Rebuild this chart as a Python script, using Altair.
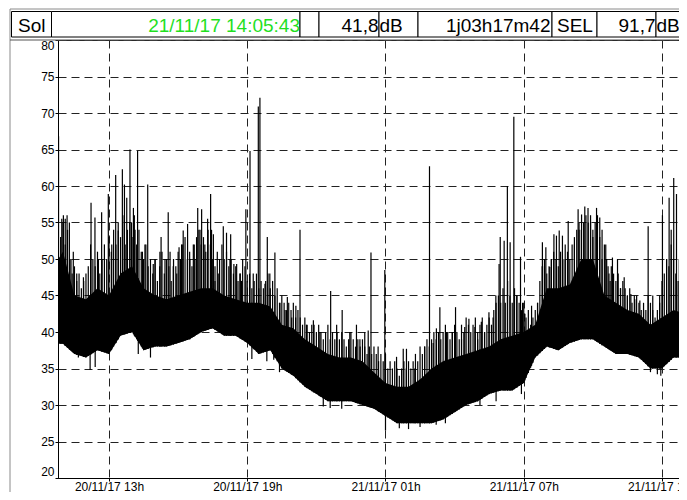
import altair as alt
import numpy as np
import pandas as pd

# ---------------- data ----------------
# envelope of the dense noise band, hours since 20/11/17 00:00
env_hours = [10.8, 11.0, 11.5, 12.0, 12.5, 13.0, 13.5, 14.0, 14.5, 15.0, 15.5, 16.0,
             16.5, 17.0, 17.5, 18.0, 18.5, 19.0, 19.5, 20.0, 20.5, 21.0, 21.5, 22.0,
             22.5, 23.0, 23.5, 24.0, 24.5, 25.0, 25.5, 26.0, 26.5, 27.0, 27.5, 28.0,
             28.5, 29.0, 29.5, 30.0, 30.5, 31.0, 31.5, 32.0, 32.5, 33.0, 33.5, 34.0,
             34.5, 35.0, 35.5, 36.0, 36.5, 37.0, 37.5, 38.0, 38.09]
env_low = [38.4, 38.4, 37.0, 36.5, 37.5, 37.0, 39.5, 40.0, 37.5, 38.0, 38.0, 38.5,
           39.0, 40.0, 40.5, 39.5, 39.5, 38.5, 37.0, 37.5, 35.0, 34.0, 32.5, 31.5,
           30.5, 30.5, 30.5, 30.0, 29.5, 28.5, 27.5, 27.5, 27.5, 27.5, 28.0, 29.0,
           30.0, 30.5, 31.5, 32.0, 32.0, 33.0, 36.5, 38.0, 37.5, 38.5, 39.0, 39.0,
           38.0, 37.0, 37.0, 36.5, 35.0, 35.0, 36.5, 36.5, 37.0]
env_core = [50.0, 51.0, 45.0, 44.5, 46.0, 45.0, 48.0, 49.0, 46.0, 45.0, 44.5, 45.0,
            45.5, 46.0, 46.0, 45.0, 44.5, 44.0, 44.0, 43.5, 41.0, 40.5, 39.0, 38.0,
            37.0, 36.5, 36.5, 36.0, 34.5, 33.0, 32.5, 32.5, 33.5, 35.0, 36.0, 36.5,
            37.0, 37.5, 38.0, 39.0, 39.5, 40.0, 41.0, 46.0, 46.0, 46.5, 50.0, 50.0,
            45.0, 44.0, 43.0, 42.5, 41.0, 42.0, 43.0, 42.5, 42.0]

# ragged upper fringe of the band, one reading every 0.1 h from 10.9 h
fringe_start, fringe_step = 10.9, 0.1
fringe_db = [
    53, 55, 52, 54, 50, 48, 49, 47, 48, 46,
    47, 48, 49, 52, 50, 49, 51, 48, 50, 52,
    50, 53, 51, 54, 52, 55, 53, 56, 52, 54,
    55, 53, 56, 52, 54, 51, 50, 52, 49, 50,
    48, 50, 47, 49, 51, 48, 50, 49, 47, 50,
    49, 51, 50, 52, 53, 50, 51, 49, 52, 53,
    54, 52, 53, 51, 54, 52, 50, 49, 51, 50,
    52, 50, 51, 49, 50, 48, 49, 47, 48, 50,
    49, 47, 48, 46, 47, 48, 46, 47, 46, 47,
    48, 46, 47, 45, 46, 44, 45, 44, 43, 44,
    43, 44, 42, 43, 42, 41, 42, 41, 40, 41,
    41, 40, 41, 40, 39, 40, 41, 39, 40, 39,
    40, 39, 40, 39, 38, 39, 40, 39, 38, 39,
    38, 39, 38, 37, 38, 37, 38, 37, 36, 37,
    36, 37, 35, 36, 35, 36, 35, 34, 35, 36,
    35, 36, 35, 36, 37, 36, 38, 37, 38, 39,
    38, 39, 40, 39, 40, 39, 40, 41, 40, 39,
    40, 41, 40, 39, 41, 40, 42, 41, 40, 41,
    42, 40, 41, 42, 40, 41, 42, 41, 43, 44,
    45, 44, 46, 44, 47, 45, 44, 46, 45, 44,
    43, 44, 42, 43, 41, 42, 43, 44, 47, 49,
    50, 48, 49, 50, 51, 50, 49, 51, 50, 52,
    51, 50, 52, 53, 54, 55, 54, 55, 56, 55,
    56, 54, 55, 56, 53, 54, 52, 50, 48, 49,
    48, 47, 48, 46, 47, 46, 45, 46, 44, 45,
    45, 44, 43, 44, 43, 45, 44, 43, 42, 43,
    45, 47, 48, 50, 49, 52, 50, 48, 47,
]

# individual peaks
spike_hours = [10.81, 10.95, 11.02, 11.10, 11.18, 11.28, 11.35, 11.45, 11.60, 11.89,
               12.22, 12.39, 12.54, 12.68, 12.97, 13.12, 13.29, 13.40, 13.58, 13.67,
               13.77, 13.91, 13.98, 14.06, 14.13, 14.24, 14.45, 14.56, 14.68, 14.92,
               15.00, 15.21, 15.26, 15.43, 15.57, 15.65, 15.79, 15.94, 16.04, 16.15,
               16.22, 16.41, 16.51, 16.66, 16.73, 16.85, 16.95, 17.02, 17.16, 17.28,
               17.41, 17.45, 17.53, 17.60, 17.74, 17.96, 18.10, 18.25, 18.28, 18.42,
               18.54, 18.68, 18.75, 18.94, 19.12, 19.26, 19.48, 19.55, 19.77, 19.87,
               19.98, 20.20, 20.42, 20.64, 20.74, 20.93, 21.11, 21.29, 21.57, 21.87,
               22.15, 22.62, 22.88, 23.12, 23.45, 23.74, 23.89, 24.10, 24.25, 24.37,
               24.68, 24.97, 25.48, 25.77, 25.91, 26.27, 26.70, 26.91, 27.07, 27.21,
               27.36, 27.65, 27.90, 28.04, 28.30, 28.44, 28.62, 28.88, 29.00, 29.16,
               29.30, 29.49, 29.67, 29.79, 29.93, 29.98, 30.15, 30.29, 30.41, 30.57,
               30.70, 30.86, 30.95, 31.05, 31.34, 31.60, 31.81, 31.90, 31.96, 32.13,
               32.20, 32.31, 32.42, 32.54, 32.68, 32.80, 32.93, 33.07, 33.20, 33.36,
               33.40, 33.51, 33.65, 33.79, 33.90, 34.00, 34.16, 34.30, 34.40, 34.56,
               34.66, 34.75, 34.85, 35.07, 35.20, 35.36, 35.50, 35.65, 35.82, 36.04,
               36.20, 36.40, 36.60, 36.90, 37.02, 37.20, 37.31, 37.40, 37.51, 37.63,
               37.75, 37.85, 37.95, 38.03]
spike_db = [66.8, 55.5, 56.0, 55.5, 56.0, 55.0, 50.0, 51.0, 48.0, 47.5,
            57.7, 55.7, 50.0, 56.4, 58.9, 52.0, 61.5, 53.9, 62.3, 60.2,
            58.4, 65.0, 55.0, 57.0, 54.0, 64.8, 51.0, 52.0, 60.2, 49.3,
            50.0, 51.0, 53.0, 50.0, 56.4, 51.0, 49.0, 48.0, 51.6, 52.0,
            53.9, 54.8, 50.0, 52.0, 50.0, 57.0, 54.0, 56.8, 52.0, 55.5,
            58.9, 54.0, 53.4, 47.0, 48.0, 54.5, 53.6, 50.0, 53.4, 49.3,
            49.3, 48.0, 47.0, 56.8, 64.8, 48.0, 70.9, 72.1, 46.6, 53.0,
            48.0, 50.9, 44.0, 43.0, 44.8, 42.0, 43.6, 54.0, 41.0, 41.6,
            40.0, 45.6, 41.0, 43.0, 40.0, 41.0, 39.0, 40.0, 40.2, 50.9,
            38.0, 48.5, 36.6, 37.7, 37.7, 35.0, 38.0, 62.7, 38.5, 40.5,
            43.4, 40.0, 40.0, 43.4, 39.0, 40.7, 41.8, 40.7, 39.0, 41.4,
            40.0, 42.7, 42.0, 45.0, 49.3, 53.0, 52.5, 60.0, 52.3, 69.5,
            45.0, 50.3, 44.0, 42.5, 43.6, 44.0, 52.3, 49.0, 51.6, 48.9,
            50.0, 53.4, 53.2, 53.9, 53.2, 50.0, 55.2, 46.0, 52.0, 56.8,
            54.0, 56.1, 57.2, 57.0, 55.0, 53.0, 57.0, 55.7, 50.0, 52.0,
            49.0, 47.0, 50.2, 50.0, 46.0, 47.5, 45.0, 45.2, 44.5, 44.3,
            43.0, 54.5, 45.0, 44.0, 56.0, 50.0, 58.4, 54.0, 61.1, 58.9,
            50.0, 51.6, 47.0, 45.2]

# downward dips below the band
dip_hours = [11.67, 12.18, 12.40, 14.27, 14.80, 19.20, 19.85, 20.15, 20.40, 22.30,
             22.60, 23.10, 25.00, 25.60, 26.00, 26.50, 27.20, 27.60, 29.10, 29.80,
             30.90, 36.50, 36.80, 36.95]
dip_db = [36.5, 34.8, 35.2, 37.0, 36.5, 36.3, 36.0, 36.2, 34.5, 29.8,
          29.6, 29.5, 26.5, 26.8, 26.7, 27.0, 27.3, 27.5, 30.0, 30.5,
          31.5, 34.5, 34.2, 34.0]

# header bar
box_left = [11.5, 51.5, 300, 319, 379, 418, 552, 597, 656]
box_right = [51.5, 300, 319, 379, 418, 552, 597, 656, 720]
head_left_text = ["Sol", "dB", "SEL", "dB"]
head_left_x = [18, 379.5, 557, 656.5]
head_right_text = ["21/11/17 14:05:43", "41,8", "1j03h17m42", "91,7"]
head_right_x = [300, 378.5, 550.5, 655.5]
head_right_color = ["#1fe01f", "black", "black", "black"]

y_ticks = [20, 25, 30, 35, 40, 45, 50, 55, 60, 65, 70, 75, 80]

# ---------------- helpers ----------------
BASE = pd.Timestamp("2017-11-20 00:00:00")


def ts(h):
    return [(BASE + pd.to_timedelta(float(v), unit="h")).strftime("%Y-%m-%dT%H:%M:%S") for v in h]


OX, OY = 58, 40  # page position of the plot origin (8px margin + padding)
PLOT_W, PLOT_H = 621, 438

env = pd.DataFrame({"time": ts(env_hours), "low": env_low, "core": env_core})

fringe_hours = [round(fringe_start + i * fringe_step, 2) for i in range(len(fringe_db))]
peak_hours = spike_hours + fringe_hours
peak_db = spike_db + fringe_db
spikes = pd.DataFrame({
    "time": ts(peak_hours),
    "peak": peak_db,
    "base": np.interp(peak_hours, env_hours, env_low),
})
dips = pd.DataFrame({
    "time": ts(dip_hours),
    "dip": dip_db,
    "top": np.interp(dip_hours, env_hours, env_core),
})

# visible time window (the page is narrower than the original window)
x_scale = alt.Scale(domain=[alt.DateTime(year=2017, month=11, date=20, hours=10, minutes=47, seconds=10),
                            alt.DateTime(year=2017, month=11, date=21, hours=13, minutes=44, seconds=20)])
y_scale = alt.Scale(domain=[20, 80], nice=False, zero=False)

x_vals = [alt.DateTime(year=2017, month=11, date=20, hours=13),
          alt.DateTime(year=2017, month=11, date=20, hours=19),
          alt.DateTime(year=2017, month=11, date=21, hours=1),
          alt.DateTime(year=2017, month=11, date=21, hours=7),
          alt.DateTime(year=2017, month=11, date=21, hours=13)]

x_axis = alt.Axis(values=x_vals, format="%d/%m/%y %Hh", title=None, grid=True,
                  gridDash=[8, 5], gridColor="#222", gridWidth=1, tickSize=3,
                  tickColor="black", labelPadding=0, labelFontSize=12,
                  labelFont="Liberation Sans", labelColor="black", domainColor="black",
                  labelOverlap=False, labelBound=False)
y_axis = alt.Axis(values=y_ticks, title=None, grid=True, gridDash=[8, 5], gridColor="#222",
                  gridWidth=1, tickSize=3, tickColor="black", labelPadding=1,
                  labelFontSize=12, labelFont="Liberation Sans", labelColor="black",
                  domainColor="black", labelFlush=True)

area = alt.Chart(env).mark_area(color="black", interpolate="linear", opacity=1, clip=True).encode(
    x=alt.X("time:T", scale=x_scale, axis=x_axis),
    y=alt.Y("low:Q", scale=y_scale, axis=y_axis),
    y2="core:Q",
)

rules = alt.Chart(spikes).mark_rule(color="black", strokeWidth=1.2, clip=True).encode(
    x=alt.X("time:T", scale=x_scale, axis=None),
    y=alt.Y("peak:Q", scale=y_scale, axis=None),
    y2="base:Q",
)

dip_rules = alt.Chart(dips).mark_rule(color="black", strokeWidth=1.2, clip=True).encode(
    x=alt.X("time:T", scale=x_scale, axis=None),
    y=alt.Y("dip:Q", scale=y_scale, axis=None),
    y2="top:Q",
)

# frame and header (pixel positions, no scale)
frame = alt.Chart(pd.DataFrame({"x1": [10 - OX], "x2": [720 - OX], "y1": [9 - OY], "y2": [520 - OY]})).mark_rect(
    fill=None, stroke="#8a8a8a", strokeWidth=1).encode(
    x=alt.X("x1:Q", scale=None, axis=None), x2="x2:Q",
    y=alt.Y("y1:Q", scale=None, axis=None), y2="y2:Q")

panel_line = alt.Chart(pd.DataFrame({"x1": [10 - OX], "x2": [720 - OX], "y": [0]})).mark_rule(
    color="#555", strokeWidth=1).encode(
    x=alt.X("x1:Q", scale=None, axis=None), x2="x2:Q",
    y=alt.Y("y:Q", scale=None, axis=None))

boxes = pd.DataFrame({"x1": [v - OX for v in box_left], "x2": [v - OX for v in box_right]})
boxes["y1"] = 11.5 - OY
boxes["y2"] = 37 - OY
head_boxes = alt.Chart(boxes).mark_rect(fill="white", stroke="black", strokeWidth=1).encode(
    x=alt.X("x1:Q", scale=None, axis=None), x2="x2:Q",
    y=alt.Y("y1:Q", scale=None, axis=None), y2="y2:Q")

lt = pd.DataFrame({"x": [v - OX for v in head_left_x], "text": head_left_text})
lt["y"] = 32 - OY
head_left = alt.Chart(lt).mark_text(align="left", baseline="alphabetic", fontSize=19,
                                    font="Liberation Sans", color="black").encode(
    x=alt.X("x:Q", scale=None, axis=None), y=alt.Y("y:Q", scale=None, axis=None), text="text:N")

rt = pd.DataFrame({"x": [v - OX for v in head_right_x], "text": head_right_text, "color": head_right_color})
rt["y"] = 32 - OY
head_right = alt.Chart(rt).mark_text(align="right", baseline="alphabetic", fontSize=19,
                                     font="Liberation Sans").encode(
    x=alt.X("x:Q", scale=None, axis=None), y=alt.Y("y:Q", scale=None, axis=None), text="text:N",
    color=alt.Color("color:N", scale=None))

chart = alt.layer(frame, panel_line, area, rules, dip_rules, head_boxes, head_left, head_right).resolve_scale(
    x="independent", y="independent"
).properties(
    width=PLOT_W, height=PLOT_H,
    autosize=alt.AutoSizeParams(type="none"),
    padding={"left": 50, "top": 32, "right": 0, "bottom": 14},
    background="white",
).configure_view(stroke="black", strokeWidth=1)

chart.save("out.html", embed_options={"renderer": "svg", "actions": False})
